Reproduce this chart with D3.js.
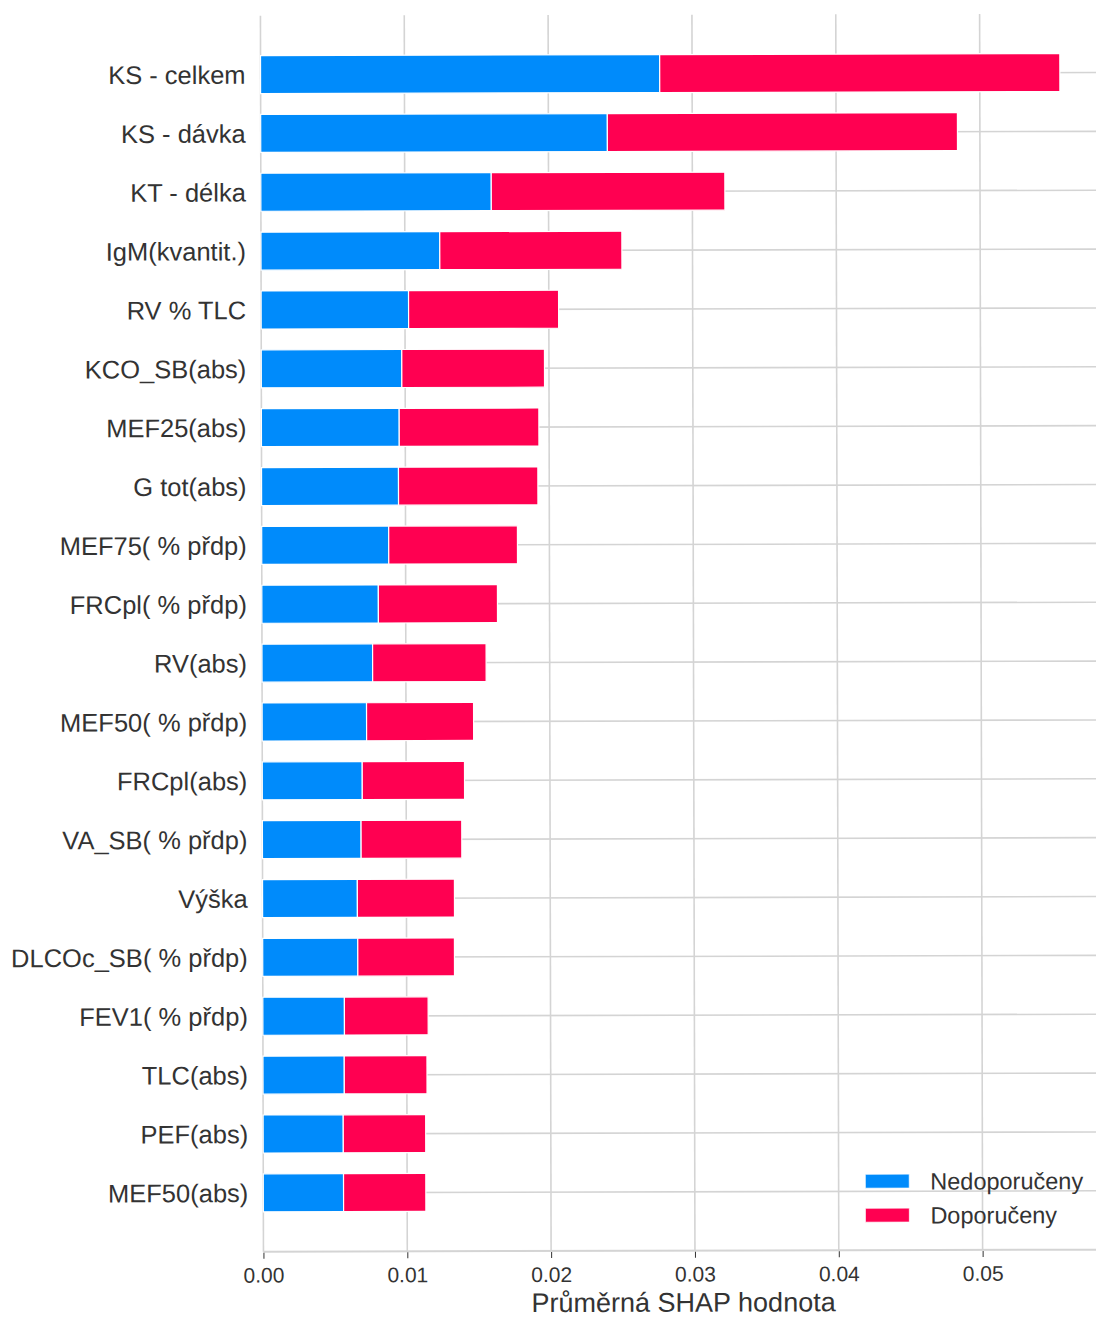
<!DOCTYPE html>
<html>
<head>
<meta charset="utf-8">
<script src="https://cdn.jsdelivr.net/npm/d3@7"></script>
<style>
  body { margin: 0; background: #fff; }
  svg { display: block; font-family: "Liberation Sans", Arial, Helvetica, sans-serif; }
</style>
</head>
<body>
<svg id="chart" width="1096" height="1317"></svg>
<script>
const features = [
  "KS - celkem", "KS - dávka", "KT - délka", "IgM(kvantit.)", "RV % TLC",
  "KCO_SB(abs)", "MEF25(abs)", "G tot(abs)", "MEF75( % přdp)", "FRCpl( % přdp)",
  "RV(abs)", "MEF50( % přdp)", "FRCpl(abs)", "VA_SB( % přdp)", "Výška",
  "DLCOc_SB( % přdp)", "FEV1( % přdp)", "TLC(abs)", "PEF(abs)", "MEF50(abs)"
];
// mean |SHAP| per class
const nedoporuceny = [
  0.02775, 0.0241, 0.01602, 0.01243, 0.01025,
  0.00977, 0.00958, 0.00952, 0.00883, 0.0081,
  0.00769, 0.00726, 0.00695, 0.00686, 0.00659,
  0.00661, 0.00567, 0.00565, 0.00557, 0.00558
];
const doporuceny = [
  0.02782, 0.02434, 0.01624, 0.01266, 0.01043,
  0.00992, 0.00971, 0.00969, 0.00895, 0.00828,
  0.00789, 0.00744, 0.00711, 0.007, 0.00675,
  0.00672, 0.00582, 0.00575, 0.00573, 0.00572
];
const xTicks = [0, 0.01, 0.02, 0.03, 0.04, 0.05];
const seriesNames = ["Nedoporučeny", "Doporučeny"];
const seriesColors = ["#008bfb", "#ff0051"];

const svg = d3.select("#chart");
// the reference is very slightly rotated
const root = svg.append("g").attr("transform", "rotate(-0.14, 548, 658)");

const x = d3.scaleLinear().domain([0, 0.0584]).range([262, 1102]);
const y = d3.scalePoint().domain(features).range([15, 1251]).padding(1);
const barH = 38;
const gridColor = "#d4d4d4";

// grid
const gridLayer = root.append("g");
gridLayer.selectAll("line.v")
  .data(xTicks)
  .join("line")
  .attr("class", "v")
  .attr("x1", d => x(d)).attr("x2", d => x(d))
  .attr("y1", 15).attr("y2", 1251)
  .attr("stroke", gridColor).attr("stroke-width", 1.6);

gridLayer.selectAll("line.h")
  .data(features)
  .join("line")
  .attr("class", "h")
  .attr("x1", x(0)).attr("x2", 1110)
  .attr("y1", d => y(d)).attr("y2", d => y(d))
  .attr("stroke", gridColor).attr("stroke-width", 1.6);

// bottom spine
gridLayer.append("line")
  .attr("x1", x(0)).attr("x2", 1110)
  .attr("y1", 1251).attr("y2", 1251)
  .attr("stroke", gridColor).attr("stroke-width", 2);

// bars
const barLayer = root.append("g");
const rows = features.map((f, i) => ({ f, a: nedoporuceny[i], b: doporuceny[i] }));

barLayer.selectAll("rect.a")
  .data(rows)
  .join("rect")
  .attr("class", "a")
  .attr("x", x(0))
  .attr("y", d => y(d.f) - barH / 2)
  .attr("width", d => x(d.a) - x(0))
  .attr("height", barH)
  .attr("fill", seriesColors[0])
  .attr("stroke", "#fff").attr("stroke-width", 1.2);

barLayer.selectAll("rect.b")
  .data(rows)
  .join("rect")
  .attr("class", "b")
  .attr("x", d => x(d.a))
  .attr("y", d => y(d.f) - barH / 2)
  .attr("width", d => x(d.a + d.b) - x(d.a))
  .attr("height", barH)
  .attr("fill", seriesColors[1])
  .attr("stroke", "#fff").attr("stroke-width", 1.2);

// feature labels
root.append("g").selectAll("text")
  .data(features)
  .join("text")
  .attr("x", 247)
  .attr("y", d => y(d))
  .attr("dy", "0.36em")
  .attr("text-anchor", "end")
  .attr("font-size", "25.5px")
  .attr("fill", "#333")
  .text(d => d);

// x axis
const xAxis = root.append("g")
  .attr("transform", "translate(0,1252)")
  .call(d3.axisBottom(x).tickValues(xTicks).tickFormat(d3.format(".2f")).tickSize(6).tickPadding(9));
xAxis.select(".domain").remove();
xAxis.selectAll(".tick line").attr("stroke", "#333").attr("stroke-width", 1);
xAxis.selectAll(".tick text")
  .attr("font-size", "21px")
  .attr("font-family", "\"Liberation Sans\", Arial, sans-serif")
  .attr("fill", "#333");

root.append("text")
  .attr("x", (x(0) + x.range()[1]) / 2)
  .attr("y", 1312)
  .attr("text-anchor", "middle")
  .attr("font-size", "27px")
  .attr("fill", "#333")
  .text("Průměrná SHAP hodnota");

// legend
const legend = root.append("g").attr("transform", "translate(864,1175)");
const items = legend.selectAll("g")
  .data(seriesNames)
  .join("g")
  .attr("transform", (d, i) => `translate(0, ${i * 34})`);
items.append("rect")
  .attr("width", 44).attr("height", 14)
  .attr("fill", (d, i) => seriesColors[i])
  .attr("stroke", "#fff").attr("stroke-width", 0.8);
items.append("text")
  .attr("x", 65).attr("y", 7)
  .attr("dy", "0.36em")
  .attr("font-size", "23.5px")
  .attr("fill", "#333")
  .text(d => d);
</script>
</body>
</html>
